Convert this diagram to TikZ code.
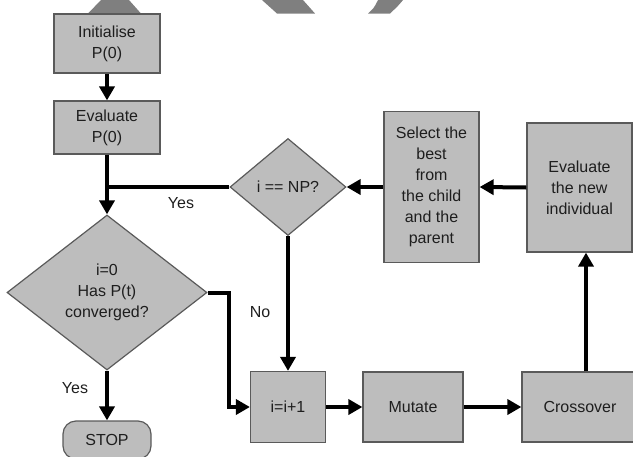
\documentclass[tikz,border=0pt]{standalone}
\usepackage{fontspec}
\setmainfont{Liberation Sans}
\usetikzlibrary{shapes.geometric,arrows.meta}
\definecolor{boxfill}{HTML}{BDBDBD}
\definecolor{boxline}{HTML}{5A5A5A}
\definecolor{wm}{HTML}{7F7F7F}
\definecolor{txt}{HTML}{1E1E1E}
\begin{document}
\begin{tikzpicture}[x=1pt,y=-1pt,
  every node/.style={font=\fontsize{16}{21}\selectfont, text=txt, align=center},
  box/.style={draw=boxline, line width=1.2pt, fill=boxfill, inner sep=0pt},
  dia/.style={diamond, draw=boxline, line width=1.2pt, fill=boxfill, inner sep=0pt, aspect=1},
  flow/.style={line width=4pt, -{Triangle[width=15pt,length=14pt]}},
  plain/.style={line width=4pt},
  lbl/.style={font=\fontsize{16}{20}\selectfont}]
\useasboundingbox (0,0) rectangle (633,456);
\begin{scope}
\clip (0,0) rectangle (633,456);
% watermark fragments
\fill[wm] (88,13.5) -- (101,0) -- (129,0) -- (141,13.5) -- cycle;
\fill[wm] (262,0) -- (303,0) -- (315,13.5) -- (277,13.5) -- cycle;
\fill[wm] (378,0) -- (403,0) .. controls (398,6) .. (390,13.5) -- (368,13.5) .. controls (374,8) .. (378,0) -- cycle;
% nodes
\node[box, minimum width=106pt, minimum height=59pt] (init) at (107,43.5) {Initialise\\P(0)};
\node[box, minimum width=106pt, minimum height=53pt] (evalp) at (107,127.5) {Evaluate\\P(0)};
\node[dia, minimum width=116pt, minimum height=97pt] (np) at (288,187) {i == NP?};
\node[dia, minimum width=200pt, minimum height=155pt] (conv) at (107,292.5) {i=0\\Has P(t)\\converged?};
\node[box, rounded corners=13pt, minimum width=88pt, minimum height=38pt] (stop) at (107,440) {STOP};
\node[box, minimum width=75pt, minimum height=71pt] (inc) at (288,407) {i=i+1};
\node[box, minimum width=100pt, minimum height=70pt] (mut) at (413,407) {Mutate};
\node[box, minimum width=116pt, minimum height=70pt] (cross) at (580,407) {Crossover};
\node[box, minimum width=105pt, minimum height=129pt] (evnew) at (579.5,187.5) {Evaluate\\the new\\individual};
\node[box, minimum width=95pt, minimum height=151pt] (sel) at (431.5,187) {Select the\\best\\from\\the child\\and the\\parent};
% labels
\node[lbl] (yes1) at (181,203) {Yes};
\node[lbl] (no) at (260,312) {No};
\node[lbl] (yes2) at (75,388) {Yes};
% connectors
\draw[flow] (init) -- (evalp);
\draw[flow] (evalp) -- (conv);
\coordinate (j) at (evalp.south |- np.west);
\draw[plain] (np.west) -- (j);
\coordinate (k) at (229,292.5);
\draw[flow] (conv.east) -- (k) |- (inc.west);
\draw[flow] (np.south) -- (inc.north);
\draw[flow] (conv.south) -- (stop.north);
\draw[flow] (inc) -- (mut);
\draw[flow] (mut) -- (cross);
\coordinate (cx) at (586,300);
\draw[flow] (cross.north -| cx) -- (evnew.south -| cx);
\draw[flow] (evnew.west) -- (sel.east);
\draw[flow] (sel.west) -- (np.east);
\end{scope}
\end{tikzpicture}
\end{document}
